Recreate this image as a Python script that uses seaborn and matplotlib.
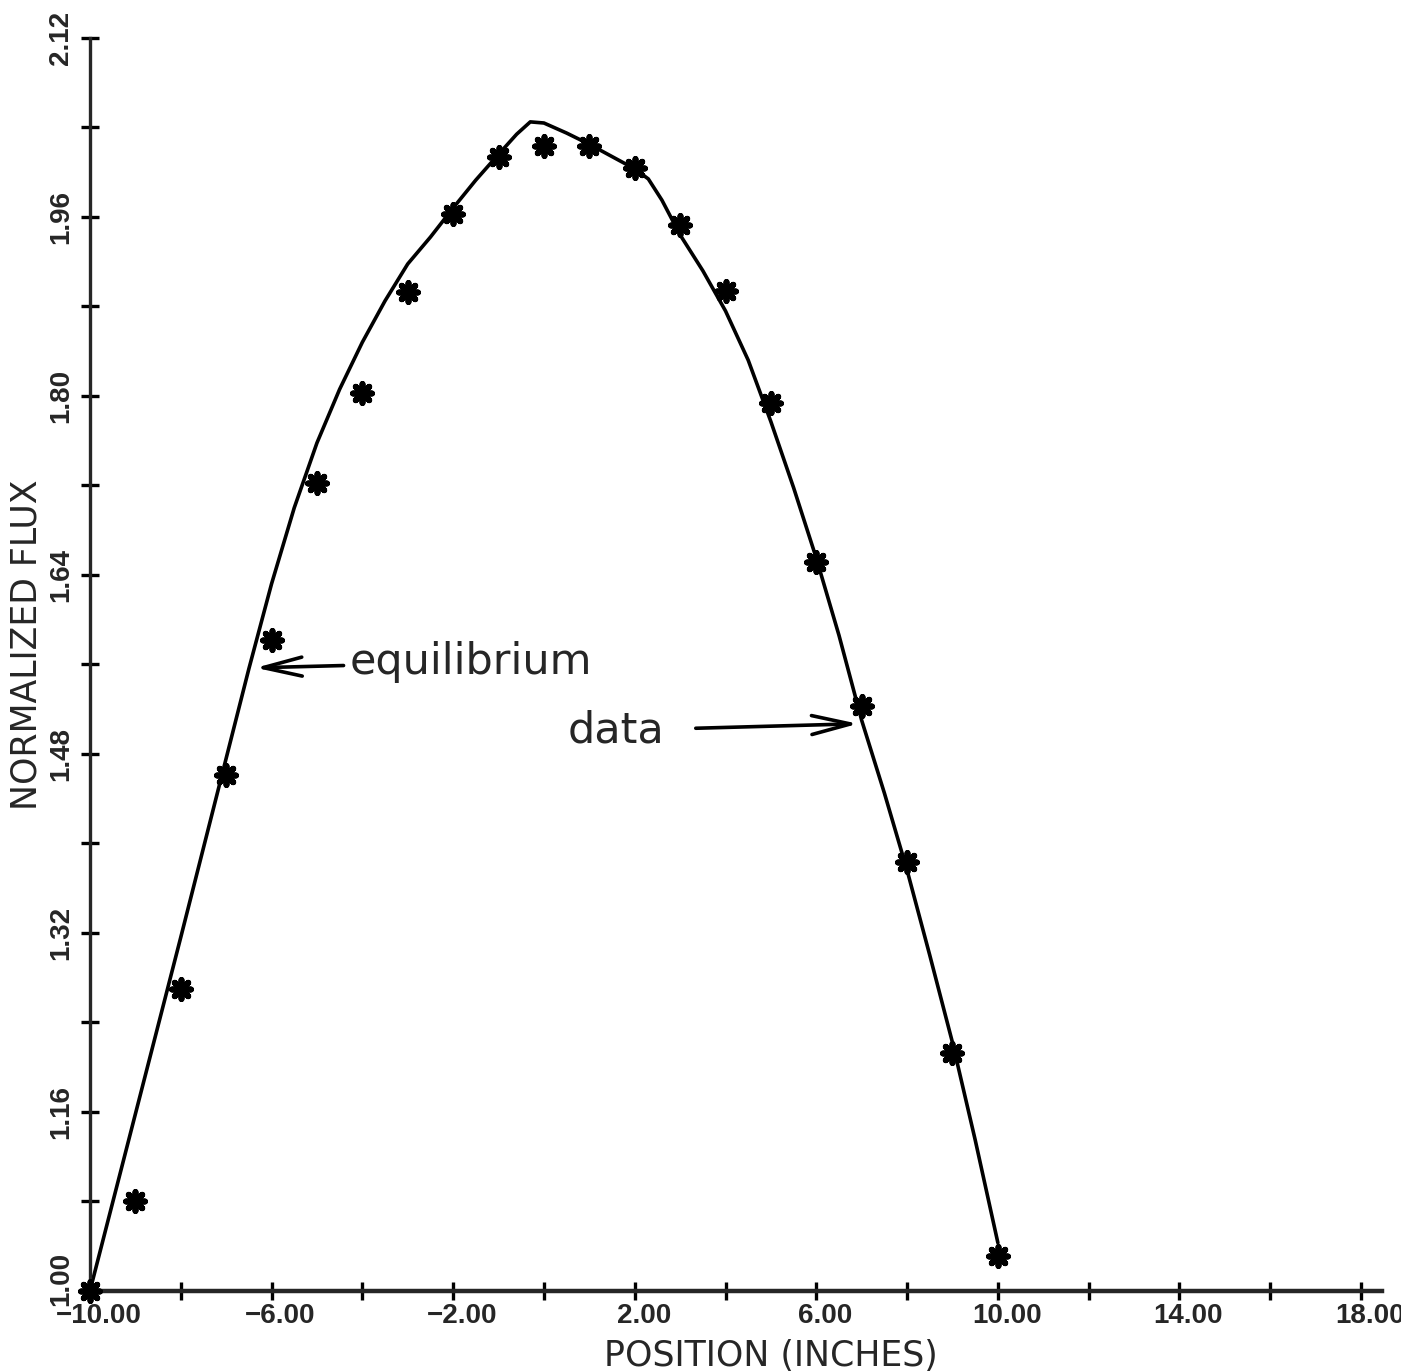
import numpy as np
import pandas as pd
import matplotlib
matplotlib.use("Agg")
import matplotlib.pyplot as plt
import matplotlib.transforms as mtransforms
from matplotlib.font_manager import FontProperties
import seaborn as sns

# measured data points (asterisks)
data_x = [-10, -9, -8, -7, -6, -5, -4, -3, -2, -1, 0, 1, 2, 3, 4, 5, 6, 7, 8, 9, 10]
data_y = [1.000, 1.080, 1.270, 1.461, 1.582, 1.722, 1.803, 1.893, 1.963, 2.014, 2.023,
          2.023, 2.004, 1.953, 1.894, 1.794, 1.652, 1.523, 1.383, 1.213, 1.031]

# equilibrium curve
eq_x = [-10.0, -9.0, -8.0, -7.0, -6.5, -6.0, -5.5, -5.0, -4.5, -4.0, -3.5, -3.0, -2.5,
        -2.0, -1.5, -1.0, -0.6, -0.3, 0.0, 0.5, 1.0, 1.5, 2.0, 2.3, 2.6, 3.0, 3.5,
        4.0, 4.5, 5.0, 5.5, 6.0, 6.5, 7.0, 7.5, 8.0, 8.5, 9.0, 9.5, 10.0]
eq_y = [1.000, 1.158, 1.316, 1.476, 1.556, 1.632, 1.700, 1.758, 1.806, 1.848, 1.885, 1.918, 1.942,
        1.968, 1.993, 2.016, 2.034, 2.045, 2.044, 2.035, 2.025, 2.014, 2.003, 1.994, 1.975, 1.944, 1.912,
        1.876, 1.832, 1.777, 1.718, 1.655, 1.586, 1.510, 1.445, 1.376, 1.300, 1.222, 1.135, 1.043]

x_major = [-10, -6, -2, 2, 6, 10, 14, 18]
x_minor = [-8, -4, 0, 4, 8, 12, 16]
x_labels = ["\u221210.00", "\u22126.00", "\u22122.00", "2.00", "6.00", "10.00", "14.00", "18.00"]
y_major = [1.00, 1.16, 1.32, 1.48, 1.64, 1.80, 1.96, 2.12]
y_minor = [1.08, 1.24, 1.40, 1.56, 1.72, 1.88, 2.04]
y_labels = ["1.00", "1.16", "1.32", "1.48", "1.64", "1.80", "1.96", "2.12"]

sns.set_style("ticks")
plt.rcParams['font.family'] = ['DejaVu Sans']

fig = plt.figure(figsize=(14.01, 13.71), dpi=100)
ax = fig.add_axes([0.0642, 0.0584, 0.9222, 0.9139])

eq_df = pd.DataFrame({'x': eq_x, 'y': eq_y})
pts_df = pd.DataFrame({'x': data_x, 'y': data_y})

sns.lineplot(data=eq_df, x='x', y='y', color='black', lw=2.6, sort=False,
             estimator=None, ax=ax, clip_on=False)
sns.scatterplot(data=pts_df, x='x', y='y', marker=(8, 2, 0), s=190, color='black',
                linewidth=4.2, ax=ax, clip_on=False, zorder=5)

ax.set_xlim(-10, 18.46)
ax.set_ylim(1.0, 2.12)

for side in ['top', 'right']:
    ax.spines[side].set_visible(False)
ax.spines['bottom'].set_linewidth(3.2)
ax.spines['left'].set_linewidth(2.4)

ax.set_xticks(x_major)
ax.set_xticks(x_minor, minor=True)
ax.set_xticklabels(x_labels)
ax.set_yticks(y_major)
ax.set_yticks(y_minor, minor=True)
ax.set_yticklabels(y_labels)

ax.tick_params(axis='both', which='both', direction='inout', length=13, width=2.4, color='black')
ax.tick_params(axis='x', which='major', pad=2)
ax.tick_params(axis='y', which='major', pad=5)

tick_font = FontProperties(family=['Liberation Sans', 'DejaVu Sans'], weight='bold', size=20)
offset = mtransforms.ScaledTranslation(9 / 100, 0, fig.dpi_scale_trans)
for lab in ax.get_xticklabels():
    lab.set_fontproperties(tick_font)
    lab.set_transform(lab.get_transform() + offset)
for lab in ax.get_yticklabels():
    lab.set_fontproperties(tick_font)
    lab.set_rotation(90)
    lab.set_va('center')
# the bottom y label sits a little higher, clear of the x labels
first = ax.get_yticklabels()[0]
first.set_transform(first.get_transform() + mtransforms.ScaledTranslation(0, 12 / 100, fig.dpi_scale_trans))

ax.set_xlabel("POSITION (INCHES)", fontsize=25)
ax.xaxis.set_label_coords(0.527, -0.038)
ax.set_ylabel("NORMALIZED FLUX", fontsize=25)
ax.yaxis.set_label_coords(-0.036, 0.516)

arrow = dict(arrowstyle='->,head_length=0.9,head_width=0.22', lw=2.6, color='black',
             shrinkA=2, shrinkB=0)
ax.annotate("equilibrium", xy=(-6.35, 1.557), xytext=(-4.28, 1.562), ha='left', va='center',
            fontsize=31, arrowprops=arrow)
arrow2 = dict(arrow, shrinkA=20)
ax.annotate("data", xy=(6.92, 1.507), xytext=(0.53, 1.501), ha='left', va='center',
            fontsize=31, arrowprops=arrow2)

fig.savefig("out.png", dpi=100)
